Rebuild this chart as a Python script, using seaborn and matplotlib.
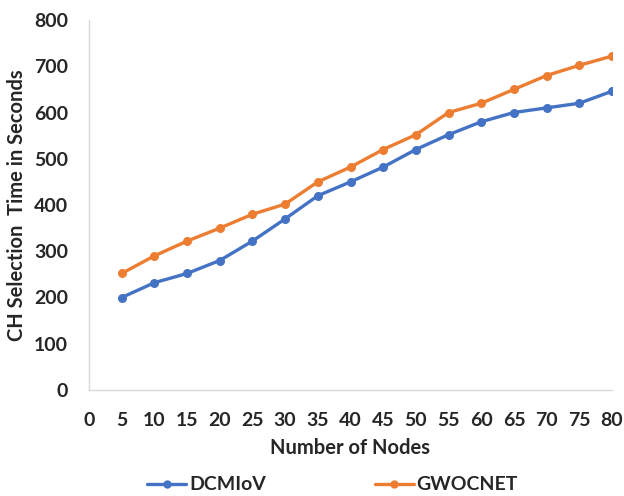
import matplotlib
matplotlib.use("Agg")
import matplotlib.pyplot as plt
import seaborn as sns
import pandas as pd
from matplotlib.lines import Line2D

nodes = [5, 10, 15, 20, 25, 30, 35, 40, 45, 50, 55, 60, 65, 70, 75, 80]
dcmiov = [200, 232, 252, 280, 322, 370, 420, 450, 482, 520, 552, 580, 600, 610, 620, 646]
gwocnet = [252, 290, 322, 350, 380, 402, 450, 482, 520, 552, 600, 620, 650, 680, 702, 722]
series_names = ["DCMIoV", "GWOCNET"]
x_ticks = list(range(0, 85, 5))
y_ticks = list(range(0, 900, 100))

df = pd.DataFrame({
    "Nodes": nodes * 2,
    "Time": dcmiov + gwocnet,
    "Series": [series_names[0]] * len(nodes) + [series_names[1]] * len(nodes),
})

sns.set_theme(style="white")
plt.rcParams['font.family'] = ['Lato', 'DejaVu Sans']

fig = plt.figure(figsize=(6.24, 4.96), dpi=100)
ax = fig.add_axes([89 / 624, 1 - 390 / 496, (612 - 89) / 624, (390 - 20) / 496])

palette = {"DCMIoV": "#4472C4", "GWOCNET": "#ED7D31"}
sns.lineplot(data=df, x="Nodes", y="Time", hue="Series", palette=palette,
             marker="o", markersize=6.5, markeredgewidth=0, linewidth=2.4,
             ax=ax, legend=False)

ax.set_xlim(0, 80)
ax.set_ylim(0, 800)
ax.set_xticks(x_ticks)
ax.set_yticks(y_ticks)
ax.tick_params(axis='x', length=0, labelsize=14, pad=16)
ax.tick_params(axis='y', length=0, labelsize=14, pad=15)
for lab in ax.get_xticklabels() + ax.get_yticklabels():
    lab.set_fontweight('bold')

ax.set_xlabel("Number of Nodes", fontsize=14.5, fontweight='bold', labelpad=6)
ax.set_ylabel("CH Selection  Time in Seconds", fontsize=14.5, fontweight='bold', labelpad=5)

for s in ["top", "right"]:
    ax.spines[s].set_visible(False)
for s in ["left", "bottom"]:
    ax.spines[s].set_color("#D9D9D9")
    ax.spines[s].set_linewidth(1)

handles = [Line2D([0], [0], color=palette[n], marker="o", markersize=6, linewidth=2.4, markeredgewidth=0)
           for n in series_names]
fig.legend(handles, series_names, loc="center", bbox_to_anchor=(0.533, 1 - 485 / 496), ncol=2,
           frameon=False, prop={'weight': 'bold', 'size': 14}, columnspacing=5.6,
           handlelength=2.0, handletextpad=0.15)

fig.savefig("out.png", dpi=100)
